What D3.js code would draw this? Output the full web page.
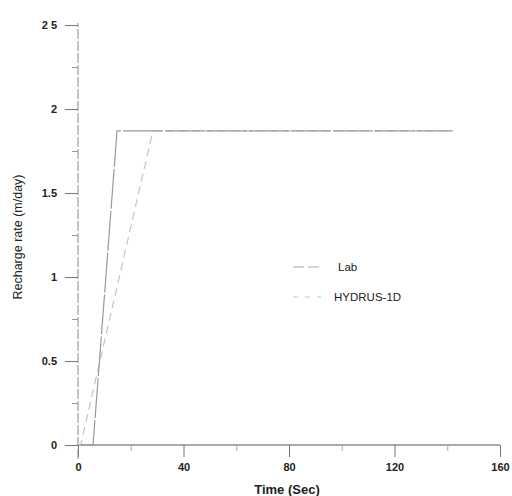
<!DOCTYPE html>
<html><head><meta charset="utf-8">
<script src="https://cdn.jsdelivr.net/npm/d3@7"></script>
<style>body{margin:0;background:#fff}svg{display:block}text{font-family:"Liberation Sans",Arial,sans-serif}</style>
</head><body>
<script>
const labTime = [0, 5.7, 14.8, 142];
const labRate = [0, 0, 1.87, 1.87];
const hydrusTime = [0, 1, 28.4, 142];
const hydrusRate = [0, 0, 1.87, 1.87];
const xTicks = [0, 40, 80, 120, 160];
const xMinor = [20, 60, 100, 140];
const yTicks = [0, 0.5, 1, 1.5, 2, 2.5];
const yTickLabels = ["0", "0.5", "1", "1.5", "2", "2 5"];
const yMinor = [0.25, 0.75, 1.25, 1.75, 2.25];
const seriesNames = ["Lab", "HYDRUS-1D"];

const W = 512, H = 496;
const svg = d3.select("body").append("svg").attr("width", W).attr("height", H);
const x = d3.scaleLinear().domain([0, 160]).range([78, 500]);
const y = d3.scaleLinear().domain([0, 2.5]).range([445, 25]);

// axes
const xAxis = d3.axisBottom(x).tickValues(xTicks).tickSize(12).tickPadding(6).tickFormat(d3.format("d"));
const gx = svg.append("g").attr("transform", `translate(0,${y(0)})`).call(xAxis);
gx.select(".domain").attr("stroke", "#555").attr("d", `M${x(0)},0H${x(160)}`);
gx.selectAll(".tick line").attr("stroke", "#777");
gx.selectAll(".tick text").attr("font-size", 11).attr("font-weight", "bold").attr("fill", "#222");
const gxm = svg.append("g").attr("transform", `translate(0,${y(0)})`)
  .call(d3.axisBottom(x).tickValues(xMinor).tickSize(6).tickFormat(""));
gxm.select(".domain").remove();
gxm.selectAll(".tick line").attr("stroke", "#aaa");

const yAxis = d3.axisLeft(y).tickValues(yTicks).tickSize(13).tickPadding(8)
  .tickFormat((d, i) => yTickLabels[i]);
const gy = svg.append("g").attr("transform", `translate(${x(0)},0)`).call(yAxis);
gy.select(".domain").attr("stroke", "#888").attr("stroke-dasharray", "10,2").attr("d", `M0,${y(0)+14}V${y(2.5)-2}`);
gy.selectAll(".tick line").attr("stroke", "#777");
gy.selectAll(".tick text").attr("font-size", 11).attr("font-weight", "bold").attr("fill", "#222");
const gym = svg.append("g").attr("transform", `translate(${x(0)},0)`)
  .call(d3.axisLeft(y).tickValues(yMinor).tickSize(6).tickFormat(""));
gym.select(".domain").remove();
gym.selectAll(".tick line").attr("stroke", "#999");

// lines
const line = d3.line().x(d => x(d[0])).y(d => y(d[1]));
const labData = labTime.map((t, i) => [t, labRate[i]]);
const hydData = hydrusTime.map((t, i) => [t, hydrusRate[i]]);
svg.append("path").datum(hydData).attr("d", line).attr("fill", "none")
  .attr("stroke", "#c4c4c4").attr("stroke-width", 1.2).attr("stroke-dasharray", "8,5");
svg.append("path").datum(labData).attr("d", line).attr("fill", "none")
  .attr("stroke", "#999").attr("stroke-width", 1.2).attr("stroke-dasharray", "40,2");

// legend
const lg = svg.append("g");
const legendStyles = [{stroke: "#aaa", dash: "11,4"}, {stroke: "#c4c4c4", dash: "5,7"}];
seriesNames.forEach((n, i) => {
  const yy = 267 + i * 30;
  lg.append("line").attr("x1", 293).attr("x2", 321).attr("y1", yy).attr("y2", yy)
    .attr("stroke", legendStyles[i].stroke).attr("stroke-width", 1.2).attr("stroke-dasharray", legendStyles[i].dash);
  lg.append("text").attr("x", i === 0 ? 338 : 334).attr("y", yy + 4).attr("font-size", 11.5)
    .attr("fill", "#222").text(n);
});

// titles
svg.append("text").attr("x", 287).attr("y", 494).attr("text-anchor", "middle")
  .attr("font-size", 13).attr("font-weight", "bold").attr("fill", "#222").text("Time (Sec)");
svg.append("text").attr("transform", "translate(22,237) rotate(-90)").attr("text-anchor", "middle")
  .attr("font-size", 12.5).attr("fill", "#222").text("Recharge rate (m/day)");
</script>
</body></html>
